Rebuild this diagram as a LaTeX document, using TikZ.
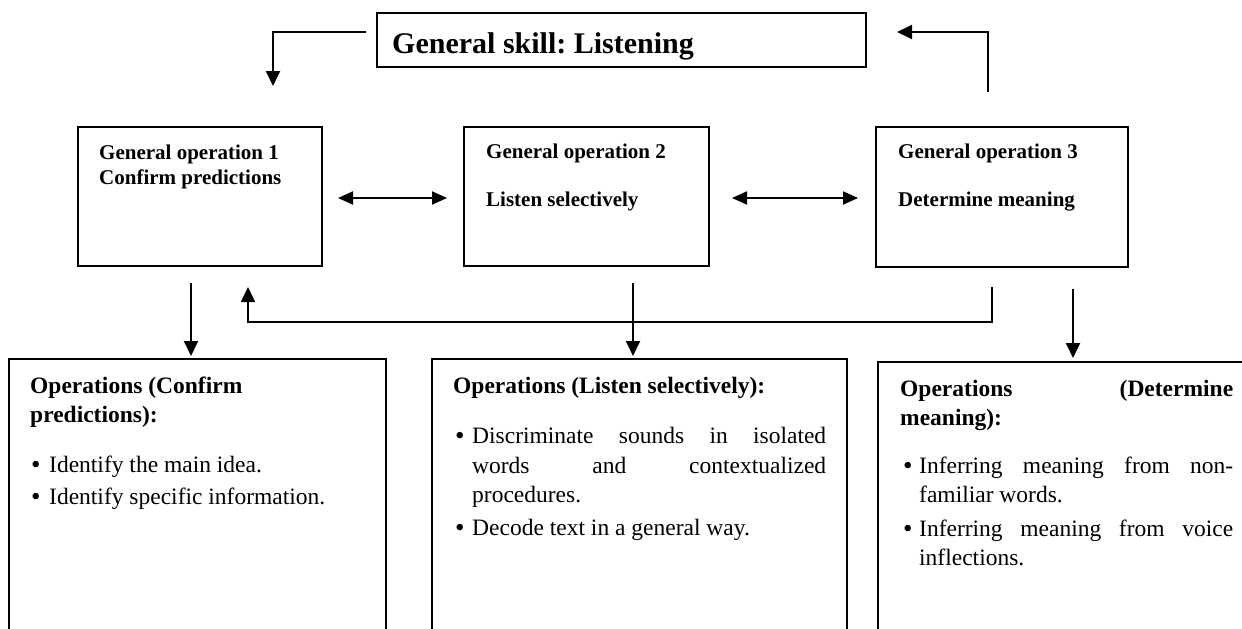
\documentclass[tikz,border=0pt]{standalone}
\usepackage{fontspec}
\setmainfont{Liberation Serif}
\usetikzlibrary{arrows.meta,calc}
\newcommand{\mybul}[1]{\makebox[19pt][l]{\hspace{#1}\raisebox{-1pt}{\fontsize{27}{27}\selectfont\textbullet}}}
\begin{document}
\frenchspacing
\begin{tikzpicture}[x=1pt,y=-1pt,
  box/.style={draw,line width=1.6pt,inner sep=0pt,outer sep=0pt,anchor=north west},
  conn/.style={line width=1.9pt,-{Triangle[length=15pt,width=14pt]}},
  plain/.style={line width=1.7pt},
  dbl/.style={line width=1.9pt,{Triangle[length=15pt,width=13pt]}-{Triangle[length=15pt,width=13pt]}},
  hd/.style={anchor=base west,inner sep=0pt,font=\fontsize{21}{24}\selectfont\bfseries\frenchspacing},
  para/.style={anchor=north west,inner sep=0pt,align=justify,font=\fontsize{23.5}{29.5}\selectfont\frenchspacing}
]
\useasboundingbox (0,0) rectangle (1242,629);
\clip (0,0) rectangle (1242,629);

% title
\node[box,minimum width=489pt,minimum height=54pt] (skill) at (377,13) {};
\node[anchor=base west,inner sep=0pt,font=\fontsize{30}{36}\selectfont\bfseries\frenchspacing] (skillt) at (392,53) {General skill: Listening};

% general operations
\node[box,minimum width=244pt,minimum height=139pt] (g1) at (78,127) {};
\node[box,minimum width=245pt,minimum height=139pt] (g2) at (464,127) {};
\node[box,minimum width=252pt,minimum height=140pt] (g3) at (876,127) {};
\node[hd] (g1a) at (99,159) {General operation 1};
\node[hd] (g1b) at (99,184) {Confirm predictions};
\node[hd] (g2a) at (486,158) {General operation 2};
\node[hd] (g2b) at (486,206) {Listen selectively};
\node[hd] (g3a) at (898,158) {General operation 3};
\node[hd] (g3b) at (898,206) {Determine meaning};

% operations boxes
\node[box,minimum width=377pt,minimum height=300pt] (o1) at (9,359) {};
\node[box,minimum width=415pt,minimum height=300pt] (o2) at (432,359) {};
\node[box,minimum width=380pt,minimum height=300pt] (o3) at (878,362) {};

\node[para,text width=335pt] (o1t) at (30,372.35) {\strut\textbf{Operations (Confirm}\\\textbf{predictions):}\par
\vspace{20.5pt}
\noindent\hangindent=19pt\hangafter=1\mybul{1pt}Identify the main idea.\par
\vspace{2.5pt}
\noindent\hangindent=19pt\hangafter=1\mybul{1pt}Identify specific information.\par};

\node[para,text width=373pt] (o2t) at (453,372.35) {\strut\textbf{Operations (Listen selectively):}\par
\vspace{21pt}
\noindent\hangindent=19pt\hangafter=1\mybul{2pt}Discriminate sounds in isolated\linebreak words and contextualized\linebreak procedures.\par
\vspace{3pt}
\noindent\hangindent=19pt\hangafter=1\mybul{2pt}Decode text in a general way.\par};

\node[para,text width=333pt] (o3t) at (900,375.35) {\strut\textbf{Operations (Determine\linebreak meaning):}\par
\vspace{18pt}
\noindent\hangindent=19pt\hangafter=1\mybul{3pt}Inferring meaning from non-\linebreak familiar words.\par
\vspace{4pt}
\noindent\hangindent=19pt\hangafter=1\mybul{3pt}Inferring meaning from voice\linebreak inflections.\par};

% connectors
\coordinate (la0) at (366,32);
\coordinate (la1) at (273,32);
\coordinate (la2) at (273,86);
\draw[conn] (la0) -- (la1) -- (la2);

\coordinate (ra0) at (988,92);
\coordinate (ra1) at (988,32);
\coordinate (ra2) at (897,32);
\draw[conn] (ra0) -- (ra1) -- (ra2);

\coordinate (d1a) at (338,198);
\coordinate (d1b) at (447,198);
\draw[dbl] (d1a) -- (d1b);
\coordinate (d2a) at (732,198);
\coordinate (d2b) at (858,198);
\draw[dbl] (d2a) -- (d2b);

\coordinate (v1a) at (191,283);
\coordinate (v1b) at (191,356);
\draw[conn] (v1a) -- (v1b);
\coordinate (v2a) at (633,283);
\coordinate (v2b) at (633,356);
\draw[conn] (v2a) -- (v2b);
\coordinate (v3a) at (1073,289);
\coordinate (v3b) at (1073,358);
\draw[conn] (v3a) -- (v3b);

\coordinate (fb0) at (992,287);
\coordinate (fb1) at (992,322);
\coordinate (fb2) at (248,322);
\coordinate (fb3) at (248,287);
\draw[plain,-{Triangle[length=15pt,width=14pt]}] (fb0) -- (fb1) -- (fb2) -- (fb3);
\end{tikzpicture}
\end{document}
